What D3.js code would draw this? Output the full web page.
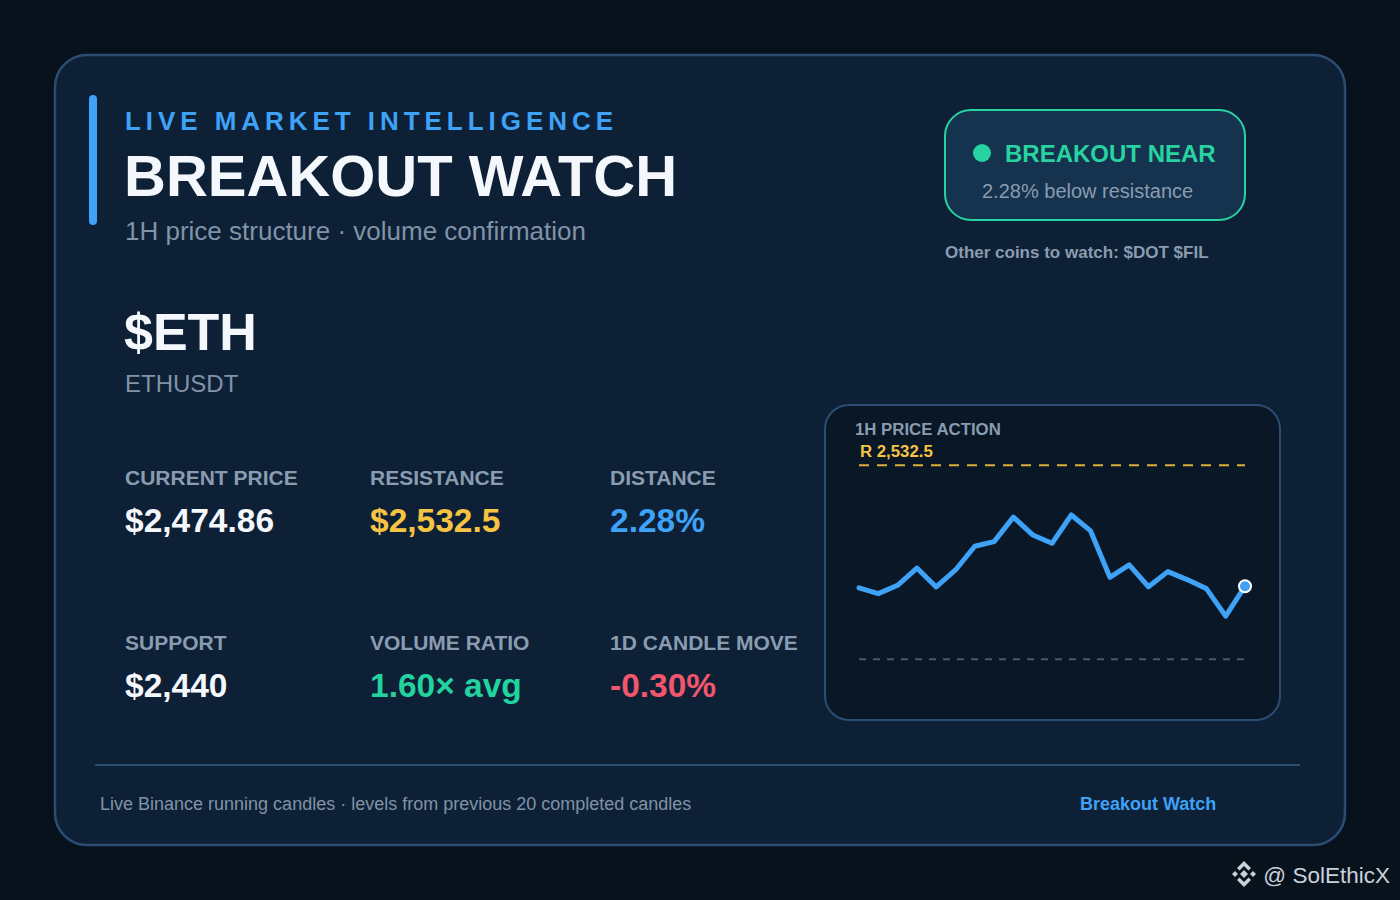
<!DOCTYPE html>
<html>
<head>
<meta charset="utf-8">
<script src="https://cdn.jsdelivr.net/npm/d3@7"></script>
<style>
  html, body { margin: 0; padding: 0; background: #08121d; }
  svg { display: block; font-family: "Liberation Sans", Arial, sans-serif; }
</style>
</head>
<body>
<svg id="chart" width="1400" height="900"></svg>
<script>
// values
var symbol = "$ETH", pair = "ETHUSDT"
var currentPrice = 2474.86, resistance = 2532.5, support = 2440
var metricLabels = ["CURRENT PRICE", "RESISTANCE", "DISTANCE", "SUPPORT", "VOLUME RATIO", "1D CANDLE MOVE"]
var metricValues = ["$2,474.86", "$2,532.5", "2.28%", "$2,440", "1.60\u00d7 avg", "-0.30%"]
var metricColors = ["#f4f7fb", "#f6c343", "#3ea2f7", "#f4f7fb", "#22d3a0", "#f2566d"]
// last 21 1H closes
var closes = [2474.1, 2471.3, 2475.3, 2483.5, 2474.5, 2482.6, 2493.9, 2496.1, 2507.8, 2499.3,
              2495.3, 2508.8, 2501.2, 2479.1, 2485.0, 2474.6, 2481.8, 2478.0, 2473.7, 2460.6, 2474.86]
var watchCoins = ["$DOT", "$FIL"]

var svg = d3.select('#chart')

// background + card
svg.append('rect').attr('width', 1400).attr('height', 900).attr('fill', '#08121d')
svg.append('rect')
    .attr('x', 55).attr('y', 55).attr('width', 1290).attr('height', 790)
    .attr('rx', 32)
    .attr('fill', '#0d2035')
    .attr('stroke', '#2b4d72').attr('stroke-width', 2.5)

// header
svg.append('rect').attr('x', 89).attr('y', 95).attr('width', 8).attr('height', 130).attr('rx', 4).attr('fill', '#3ea2f7')
svg.append('text').attr('x', 125).attr('y', 130)
    .attr('fill', '#3ea2f7').style('font-size', '26px').style('font-weight', 'bold').style('letter-spacing', '4.95px')
    .text('LIVE MARKET INTELLIGENCE')
svg.append('text').attr('x', 124).attr('y', 196)
    .attr('fill', '#f4f7fb').style('font-size', '58px').style('font-weight', 'bold')
    .text('BREAKOUT WATCH')
svg.append('text').attr('x', 125).attr('y', 240)
    .attr('fill', '#8093a7').style('font-size', '26px')
    .text('1H price structure \u00b7 volume confirmation')

// symbol
svg.append('text').attr('x', 124).attr('y', 350)
    .attr('fill', '#f4f7fb').style('font-size', '52px').style('font-weight', 'bold')
    .text(symbol)
svg.append('text').attr('x', 125).attr('y', 392)
    .attr('fill', '#8093a7').style('font-size', '24px')
    .text(pair)

// metrics grid
var colX = d3.scaleOrdinal().domain([0, 1, 2]).range([125, 370, 610])
var rowY = d3.scalePoint().domain([0, 1]).range([485, 650])
var metrics = svg.append('g').selectAll('g')
    .data(metricLabels)
    .join('g')
    .attr('transform', function(d, i) {
        return 'translate(' + colX(i % 3) + ',' + rowY(Math.floor(i / 3)) + ')'
    })
metrics.append('text')
    .attr('fill', '#8a9cb0').style('font-size', '21px').style('font-weight', 'bold')
    .text(function(d) { return d })
metrics.append('text')
    .attr('y', 47)
    .attr('fill', function(d, i) { return metricColors[i] })
    .style('font-size', '33.5px').style('font-weight', 'bold')
    .text(function(d, i) { return metricValues[i] })

// status badge
svg.append('rect')
    .attr('x', 945).attr('y', 110).attr('width', 300).attr('height', 110).attr('rx', 26)
    .attr('fill', '#15324e').attr('stroke', '#27d3a0').attr('stroke-width', 2)
svg.append('circle').attr('cx', 982).attr('cy', 153).attr('r', 9).attr('fill', '#27d3a0')
svg.append('text').attr('x', 1005).attr('y', 162)
    .attr('fill', '#27d3a0').style('font-size', '24px').style('font-weight', 'bold')
    .text('BREAKOUT NEAR')
svg.append('text').attr('x', 982).attr('y', 198)
    .attr('fill', '#8a9cb0').style('font-size', '20px')
    .text('2.28% below resistance')
svg.append('text').attr('x', 945).attr('y', 258)
    .attr('fill', '#8a9cb0').style('font-size', '17px').style('font-weight', 'bold')
    .text('Other coins to watch: ' + watchCoins.join(' '))

// price action panel
svg.append('rect')
    .attr('x', 825).attr('y', 405).attr('width', 455).attr('height', 315).attr('rx', 24)
    .attr('fill', '#0a1727').attr('stroke', '#2b4d72').attr('stroke-width', 2)
svg.append('text').attr('x', 855).attr('y', 435)
    .attr('fill', '#8a9cb0').style('font-size', '16.8px').style('font-weight', 'bold')
    .text('1H PRICE ACTION')
svg.append('text').attr('x', 860).attr('y', 457)
    .attr('fill', '#f6c343').style('font-size', '16.8px').style('font-weight', 'bold')
    .text('R ' + d3.format(',.1f')(resistance))

var x = d3.scaleLinear().domain([0, closes.length - 1]).range([859, 1245])
var y = d3.scaleLinear().domain([support, resistance]).range([659.3, 465.3])

svg.append('line')
    .attr('x1', x(0)).attr('x2', x(closes.length - 1))
    .attr('y1', y(resistance)).attr('y2', y(resistance))
    .attr('stroke', '#d9ad3c').attr('stroke-width', 2).attr('stroke-dasharray', '10,8')
svg.append('line')
    .attr('x1', x(0)).attr('x2', x(closes.length - 1))
    .attr('y1', y(support)).attr('y2', y(support))
    .attr('stroke', '#4a5868').attr('stroke-width', 2).attr('stroke-dasharray', '7,7')

var line = d3.line()
    .x(function(d, i) { return x(i) })
    .y(function(d) { return y(d) })
svg.append('path')
    .datum(closes)
    .attr('d', line)
    .attr('fill', 'none')
    .attr('stroke', '#3ea2f7').attr('stroke-width', 5)
    .attr('stroke-linejoin', 'round').attr('stroke-linecap', 'round')
svg.append('circle')
    .attr('cx', x(closes.length - 1)).attr('cy', y(currentPrice)).attr('r', 6)
    .attr('fill', '#3ea2f7').attr('stroke', '#ffffff').attr('stroke-width', 2)

// footer
svg.append('line').attr('x1', 95).attr('x2', 1300).attr('y1', 765).attr('y2', 765)
    .attr('stroke', '#2b4d72').attr('stroke-width', 2)
svg.append('text').attr('x', 100).attr('y', 810)
    .attr('fill', '#8093a7').style('font-size', '18px')
    .text('Live Binance running candles \u00b7 levels from previous 20 completed candles')
svg.append('text').attr('x', 1080).attr('y', 810)
    .attr('fill', '#3ea2f7').style('font-size', '18px').style('font-weight', 'bold')
    .text('Breakout Watch')

// watermark
var logo = svg.append('g').attr('transform', 'translate(1244,874)').attr('fill', '#c9d1db')
logo.append('path').attr('d', 'M0,-4 L4,0 L0,4 L-4,0 Z')
logo.append('path').attr('d', 'M-12,0 L-9,-3 L-6,0 L-9,3 Z')
logo.append('path').attr('d', 'M12,0 L9,-3 L6,0 L9,3 Z')
logo.append('path').attr('d', 'M0,-13 L7,-6 L4.5,-3.5 L0,-8 L-4.5,-3.5 L-7,-6 Z')
logo.append('path').attr('d', 'M0,13 L7,6 L4.5,3.5 L0,8 L-4.5,3.5 L-7,6 Z')
svg.append('text').attr('x', 1390).attr('y', 883)
    .attr('text-anchor', 'end')
    .attr('fill', '#c9d1db').style('font-size', '22.5px')
    .text('@ SolEthicX')
</script>
</body>
</html>
